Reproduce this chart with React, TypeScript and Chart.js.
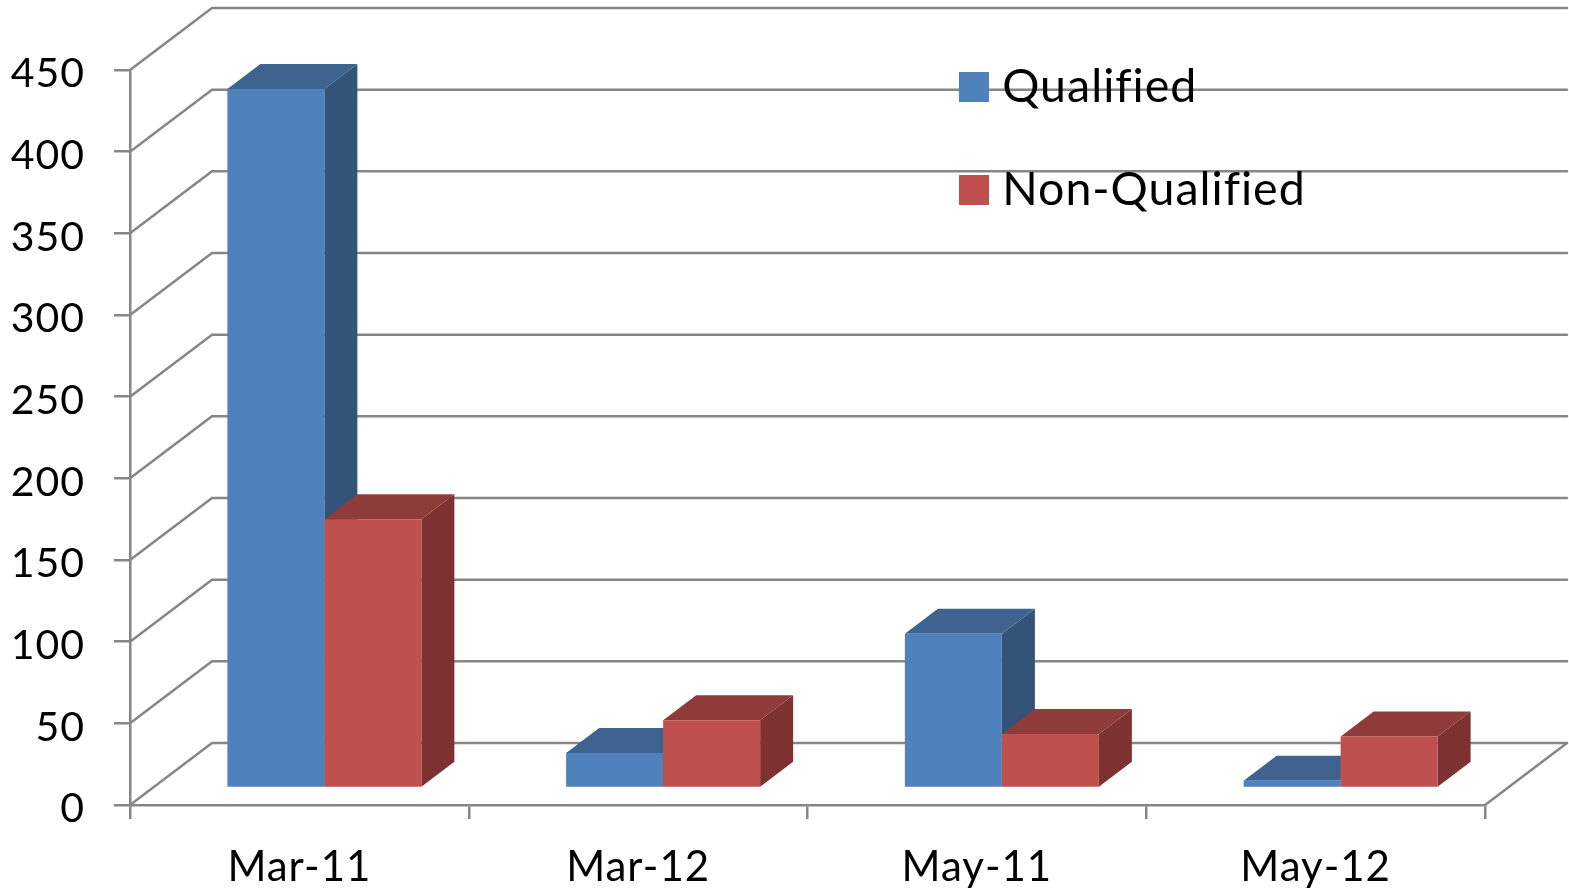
import React, { useEffect, useRef } from "react";
import { Chart, registerables } from "chart.js";

Chart.register(...registerables);

const categories = ["Mar-11", "Mar-12", "May-11", "May-12"];
const qualified = [428, 21.5, 94.5, 4.5];
const nonQualified = [164.5, 41.5, 33, 31.5];
const yMax = 450;
const yStep = 50;

const FONT = "Lato";
const X_SIZE = 42;
const Y_SIZE = 41;
const LEGEND_SIZE = 46.5;
const GRID = "#868686";
const GRID_W = 2.5;
const WALL_DX = 82;
const WALL_DY = -62;
const BAR_DX = 25;
const BAR_DY = -17;
const DEPTH_DX = 33;
const DEPTH_DY = -25;

const palette = [
  { front: "#4F81BD", side: "#335379", top: "#3E638F" },
  { front: "#C0504D", side: "#7D3231", top: "#8F3B39" },
];

function swatch(color: string) {
  const c = document.createElement("canvas");
  c.width = 30;
  c.height = 30;
  const x = c.getContext("2d")!;
  x.fillStyle = color;
  x.fillRect(0, 0, 30, 30);
  return c;
}

const walls = {
  id: "walls",
  beforeDraw(chart: any) {
    const { ctx, scales } = chart;
    const { x, y } = scales;
    ctx.letterSpacing = "1px";
    ctx.save();
    ctx.strokeStyle = GRID;
    ctx.lineWidth = GRID_W;
    ctx.lineCap = "round";
    for (const t of y.ticks) {
      const py = y.getPixelForValue(t.value);
      ctx.beginPath();
      ctx.moveTo(x.left, py);
      ctx.lineTo(x.left + WALL_DX, py + WALL_DY);
      ctx.lineTo(x.right + WALL_DX, py + WALL_DY);
      ctx.stroke();
    }
    const by = y.getPixelForValue(0);
    ctx.beginPath();
    ctx.moveTo(x.right, by);
    ctx.lineTo(x.right + WALL_DX, by + WALL_DY);
    ctx.stroke();
    ctx.restore();
  },
};

const bars3d = {
  id: "bars3d",
  beforeDatasetsDraw(chart: any) {
    const { ctx } = chart;
    ctx.save();
    ctx.translate(BAR_DX, BAR_DY);
    chart.data.datasets.forEach((_: any, di: number) => {
      const meta = chart.getDatasetMeta(di);
      meta.data.forEach((el: any) => {
        const l = el.x - el.width / 2;
        const r = el.x + el.width / 2;
        const t = el.y;
        const b = el.base;
        ctx.fillStyle = palette[di].side;
        ctx.beginPath();
        ctx.moveTo(r, t);
        ctx.lineTo(r + DEPTH_DX, t + DEPTH_DY);
        ctx.lineTo(r + DEPTH_DX, b + DEPTH_DY);
        ctx.lineTo(r, b);
        ctx.closePath();
        ctx.fill();
        ctx.fillStyle = palette[di].top;
        ctx.beginPath();
        ctx.moveTo(l, t);
        ctx.lineTo(l + DEPTH_DX, t + DEPTH_DY);
        ctx.lineTo(r + DEPTH_DX, t + DEPTH_DY);
        ctx.lineTo(r, t);
        ctx.closePath();
        ctx.fill();
      });
    });
  },
  afterDatasetsDraw(chart: any) {
    chart.ctx.restore();
  },
};

const LEGEND_PAD = 103 - LEGEND_SIZE;
const legendPlace = {
  id: "legendPlace",
  afterLayout(chart: any) {
    const lg = chart.legend;
    lg.left = 969 - LEGEND_PAD;
    lg.right = 1500;
    lg.width = 1500 - lg.left;
    lg.top = 87 - LEGEND_SIZE / 2 - LEGEND_PAD;
    lg.bottom = lg.top + 400;
    lg.height = 400;
  },
};

export default function App() {
  const ref = useRef<HTMLCanvasElement>(null);
  useEffect(() => {
    const chart = new Chart(ref.current!, {
      type: "bar",
      data: {
        labels: categories,
        datasets: [
          { label: "Qualified", data: qualified, backgroundColor: palette[0].front },
          { label: "Non-Qualified", data: nonQualified, backgroundColor: palette[1].front },
        ],
      },
      plugins: [walls, bars3d, legendPlace],
      options: {
        animation: false,
        responsive: false,
        datasets: { bar: { barPercentage: 1, categoryPercentage: 194 / 338.75, clip: false } },
        layout: { padding: { left: 0, top: 70, right: 84, bottom: 0 } },
        plugins: {
          tooltip: { enabled: false },
          legend: {
            position: "chartArea",
            align: "start",
            labels: {
              usePointStyle: true,
              boxWidth: 10,
              padding: LEGEND_PAD,
              color: "#000",
              font: { family: FONT, size: LEGEND_SIZE },
              generateLabels: (c: any) =>
                Chart.defaults.plugins.legend.labels
                  .generateLabels(c)
                  .map((it: any, i: number) => ({
                    ...it,
                    pointStyle: swatch(palette[i].front),
                  })),
            },
          },
        },
        scales: {
          x: {
            afterFit: (s: any) => {
              s.height = 86;
            },
            border: { color: GRID, width: GRID_W },
            grid: { drawOnChartArea: false, tickLength: 14, color: GRID, lineWidth: GRID_W },
            ticks: {
              color: "#000",
              padding: 23,
              maxRotation: 0,
              autoSkip: false,
              font: { family: FONT, size: X_SIZE },
            },
          },
          y: {
            min: 0,
            max: yMax,
            afterFit: (s: any) => {
              s.width = 130;
            },
            border: { color: GRID, width: GRID_W },
            grid: { drawOnChartArea: false, tickLength: 16, color: GRID, lineWidth: GRID_W },
            ticks: {
              stepSize: yStep,
              color: "#000",
              padding: 29,
              labelOffset: 4,
              font: { family: FONT, size: Y_SIZE },
            },
          },
        },
      } as any,
    });
    return () => chart.destroy();
  }, []);
  return (
    <canvas
      ref={ref}
      width={1569}
      height={891}
      style={{ position: "absolute", left: 0, top: 0, display: "block" }}
    />
  );
}
